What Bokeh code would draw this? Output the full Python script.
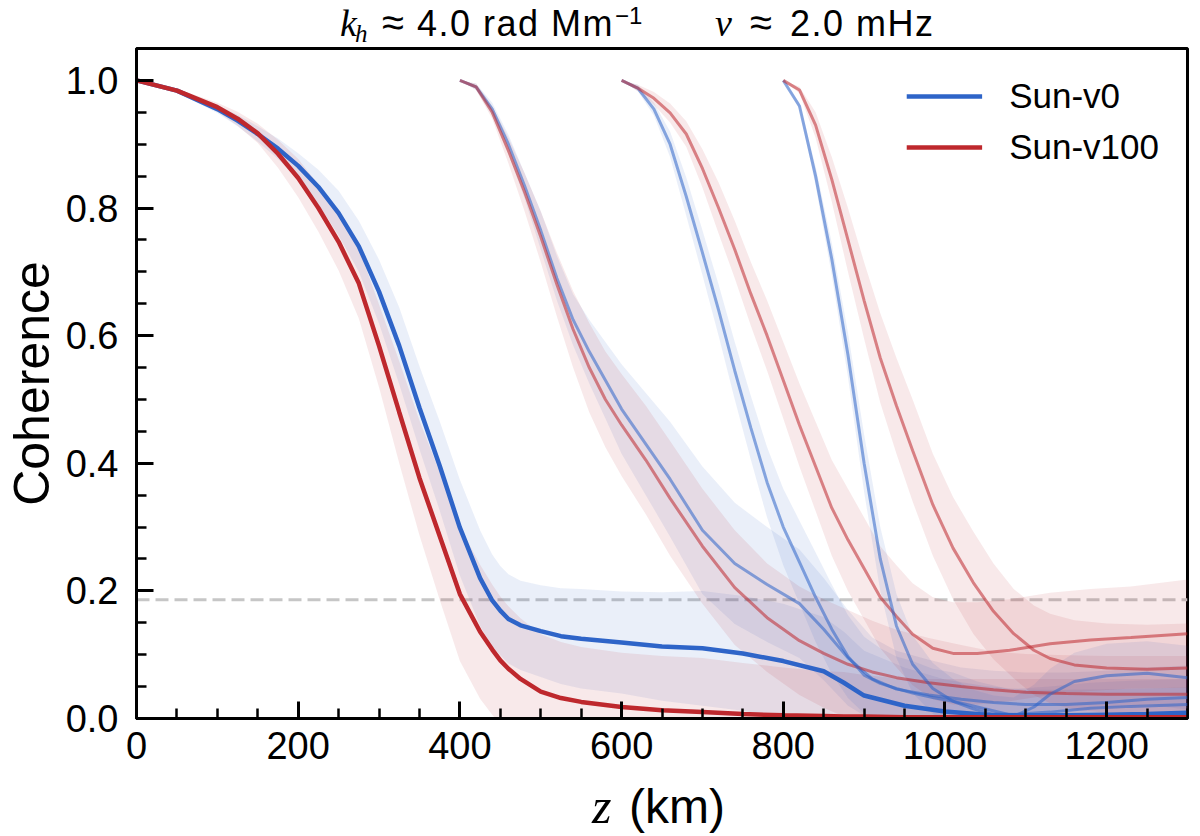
from bokeh.plotting import figure
from bokeh.layouts import column
from bokeh.models import (Range1d, SingleIntervalTicker, NumeralTickFormatter, Span,
                          Legend, LegendItem, Div)
from bokeh.embed import file_html
from bokeh.resources import INLINE

FONT = 'Liberation Sans'
SERIF = 'Liberation Serif'

BLUE = '#2e64c8'
RED = '#be282d'

# DATA

# coherence from the surface
z_ref = [0, 50, 100, 125, 150, 175, 200, 225, 250, 275, 300, 325, 350, 375, 400, 425, 440,
         450, 460, 475, 500, 525, 550, 600, 650, 700, 750, 800, 850, 875, 900, 950, 1000,
         1050, 1100, 1150, 1200, 1250, 1300]
v0_ref = [1.0, 0.984, 0.955, 0.937, 0.916, 0.893, 0.866, 0.833, 0.792, 0.74, 0.669, 0.584,
          0.487, 0.396, 0.299, 0.22, 0.185, 0.169, 0.156, 0.146, 0.137, 0.129, 0.125, 0.119,
          0.113, 0.11, 0.102, 0.09, 0.074, 0.056, 0.036, 0.02, 0.011, 0.006, 0.005, 0.005,
          0.006, 0.007, 0.009]
v0_ref_std = [0, 0.003, 0.006, 0.009, 0.012, 0.016, 0.02, 0.027, 0.035, 0.04, 0.05, 0.06,
              0.065, 0.07, 0.075, 0.075, 0.072, 0.07, 0.07, 0.07, 0.072, 0.075, 0.078, 0.08,
              0.085, 0.09, 0.09, 0.09, 0.085, 0.08, 0.07, 0.06, 0.05, 0.045, 0.04, 0.04,
              0.04, 0.04, 0.04]
v100_ref = [1.0, 0.984, 0.958, 0.94, 0.917, 0.885, 0.847, 0.8, 0.747, 0.682, 0.584, 0.48,
            0.377, 0.286, 0.195, 0.136, 0.108, 0.091, 0.078, 0.062, 0.042, 0.032, 0.026,
            0.018, 0.013, 0.01, 0.007, 0.005, 0.004, 0.003, 0.003, 0.002, 0.002, 0.002,
            0.002, 0.002, 0.002, 0.002, 0.002]
v100_ref_std = [0, 0.003, 0.007, 0.011, 0.015, 0.022, 0.03, 0.037, 0.045, 0.055, 0.065,
                0.08, 0.09, 0.1, 0.105, 0.105, 0.102, 0.1, 0.098, 0.095, 0.09, 0.088, 0.086,
                0.085, 0.085, 0.085, 0.08, 0.075, 0.07, 0.07, 0.065, 0.06, 0.06, 0.06, 0.06,
                0.06, 0.06, 0.06, 0.06]

# coherence from 400 km
z_400 = [400, 420, 440, 460, 480, 500, 520, 540, 560, 580, 600, 630, 660, 700, 740, 780,
         820, 850, 880, 910, 940, 980, 1020, 1060, 1100, 1150, 1200, 1250, 1300]
v0_400 = [1.0, 0.99, 0.955, 0.9, 0.835, 0.765, 0.69, 0.625, 0.575, 0.53, 0.485, 0.43, 0.375,
          0.295, 0.243, 0.21, 0.18, 0.14, 0.095, 0.062, 0.046, 0.037, 0.03, 0.025, 0.022,
          0.022, 0.025, 0.03, 0.033]
v0_400_std = [0, 0.005, 0.01, 0.015, 0.02, 0.03, 0.035, 0.04, 0.05, 0.06, 0.07, 0.08, 0.09,
              0.1, 0.095, 0.09, 0.085, 0.08, 0.075, 0.065, 0.06, 0.055, 0.05, 0.05, 0.05,
              0.05, 0.05, 0.05, 0.05]
v100_400 = [1.0, 0.99, 0.95, 0.89, 0.825, 0.755, 0.68, 0.61, 0.55, 0.5, 0.46, 0.405, 0.345,
            0.27, 0.205, 0.158, 0.122, 0.102, 0.085, 0.073, 0.064, 0.056, 0.05, 0.045, 0.041,
            0.039, 0.038, 0.038, 0.038]
v100_400_std = [0, 0.005, 0.01, 0.02, 0.03, 0.04, 0.05, 0.06, 0.07, 0.075, 0.08, 0.085, 0.09,
                0.09, 0.09, 0.085, 0.085, 0.085, 0.085, 0.08, 0.075, 0.07, 0.065, 0.06, 0.06,
                0.06, 0.06, 0.06, 0.06]

# coherence from 600 km
z_600 = [600, 620, 640, 660, 680, 700, 720, 740, 760, 780, 800, 820, 840, 860, 880, 900,
         920, 940, 960, 985, 1010, 1040, 1080, 1130, 1180, 1230, 1300]
v0_600 = [1.0, 0.988, 0.955, 0.9, 0.818, 0.73, 0.64, 0.545, 0.455, 0.37, 0.3, 0.245, 0.19,
          0.14, 0.097, 0.068, 0.055, 0.047, 0.04, 0.033, 0.027, 0.018, 0.006, 0.01, 0.016,
          0.019, 0.022]
v0_600_std = [0, 0.005, 0.01, 0.02, 0.03, 0.035, 0.04, 0.045, 0.05, 0.055, 0.06, 0.065, 0.07,
              0.07, 0.065, 0.06, 0.055, 0.05, 0.05, 0.045, 0.045, 0.04, 0.04, 0.04, 0.04,
              0.04, 0.04]
v100_600 = [1.0, 0.988, 0.972, 0.949, 0.916, 0.862, 0.8, 0.735, 0.665, 0.6, 0.53, 0.46,
            0.395, 0.33, 0.28, 0.235, 0.19, 0.16, 0.132, 0.11, 0.102, 0.102, 0.107, 0.117,
            0.123, 0.127, 0.133]
v100_600_std = [0, 0.005, 0.01, 0.015, 0.02, 0.03, 0.04, 0.045, 0.05, 0.055, 0.06, 0.065,
                0.07, 0.075, 0.08, 0.08, 0.08, 0.08, 0.08, 0.08, 0.08, 0.08, 0.08, 0.08, 0.08,
                0.08, 0.085]

# coherence from 800 km
z_800 = [800, 820, 840, 860, 880, 900, 920, 940, 960, 985, 1010, 1035, 1060, 1085, 1110,
         1130, 1160, 1200, 1250, 1300]
v0_800 = [1.0, 0.96, 0.85, 0.72, 0.57, 0.4, 0.25, 0.145, 0.085, 0.047, 0.027, 0.015, 0.006,
          0.003, 0.018, 0.038, 0.058, 0.067, 0.071, 0.064]
v0_800_std = [0, 0.005, 0.015, 0.025, 0.035, 0.045, 0.05, 0.05, 0.045, 0.04, 0.035, 0.03,
              0.03, 0.03, 0.035, 0.04, 0.045, 0.05, 0.05, 0.05]
v100_800 = [1.0, 0.985, 0.93, 0.845, 0.75, 0.655, 0.565, 0.49, 0.42, 0.335, 0.267, 0.213,
            0.168, 0.133, 0.107, 0.094, 0.084, 0.079, 0.077, 0.079]
v100_800_std = [0, 0.005, 0.02, 0.035, 0.05, 0.06, 0.07, 0.075, 0.08, 0.08, 0.08, 0.08,
                0.075, 0.07, 0.07, 0.07, 0.07, 0.07, 0.07, 0.07]

noise_level = 0.186

# FIGURE

p = figure(
    width=1192,
    height=730,
    x_range=Range1d(0, 1300),
    y_range=Range1d(0, 1.05),
    output_backend='svg',
    toolbar_location=None,
    tools='',
    min_border_left=132,
    min_border_right=5,
    min_border_top=2,
    min_border_bottom=58,
)
p.title.visible = False
p.grid.visible = False
p.outline_line_color = 'black'
p.outline_line_width = 3
p.outline_line_alpha = 1.0


def band(z, y, s, color):
    lo = [a - b for a, b in zip(y, s)]
    hi = [a + b for a, b in zip(y, s)]
    p.varea(x=z, y1=lo, y2=hi, fill_color=color, fill_alpha=0.1)


band(z_ref, v0_ref, v0_ref_std, BLUE)
band(z_ref, v100_ref, v100_ref_std, RED)
for z, y0, s0, y1, s1 in [(z_400, v0_400, v0_400_std, v100_400, v100_400_std),
                          (z_600, v0_600, v0_600_std, v100_600, v100_600_std),
                          (z_800, v0_800, v0_800_std, v100_800, v100_800_std)]:
    band(z, y0, s0, BLUE)
    band(z, y1, s1, RED)

p.add_layout(Span(location=noise_level, dimension='width', line_color='#c6c6c6',
                  line_width=3, line_dash='13 6', level='underlay'))

for z, y0, y1 in [(z_400, v0_400, v100_400), (z_600, v0_600, v100_600),
                  (z_800, v0_800, v100_800)]:
    p.line(z, y0, line_color=BLUE, line_width=3, line_alpha=0.55)
    p.line(z, y1, line_color=RED, line_width=3, line_alpha=0.55)

b_main = p.line(z_ref, v0_ref, line_color=BLUE, line_width=4.5)
r_main = p.line(z_ref, v100_ref, line_color=RED, line_width=4.5)

# AXES

p.xaxis.ticker = SingleIntervalTicker(interval=200, num_minor_ticks=4)
p.yaxis.ticker = SingleIntervalTicker(interval=0.2, num_minor_ticks=4)
p.yaxis.formatter = NumeralTickFormatter(format='0.0')

p.axis.major_tick_in = 17
p.axis.major_tick_out = 0
p.axis.minor_tick_in = 10
p.axis.minor_tick_out = 0
p.axis.axis_line_width = 3
p.axis.major_tick_line_width = 3
p.axis.minor_tick_line_width = 2.5
p.axis.major_label_text_font = FONT
p.axis.major_label_text_font_size = '38px'
p.axis.major_label_text_color = 'black'
p.xaxis.major_label_standoff = 13
p.yaxis.major_label_standoff = 18

p.yaxis.axis_label = 'Coherence'
p.yaxis.axis_label_text_font = FONT
p.yaxis.axis_label_text_font_size = '50px'
p.yaxis.axis_label_text_font_style = 'normal'
p.yaxis.axis_label_text_color = 'black'
p.yaxis.axis_label_standoff = 3

# LEGEND

legend = Legend(
    items=[LegendItem(label='Sun-v0', renderers=[b_main]),
           LegendItem(label='Sun-v100', renderers=[r_main])],
    location='top_right',
    border_line_alpha=0,
    background_fill_alpha=0,
    label_text_font=FONT,
    label_text_font_size='35px',
    label_text_color='black',
    glyph_width=76,
    glyph_height=40,
    label_height=40,
    label_standoff=27,
    spacing=11,
    padding=8,
    margin=20,
)
p.add_layout(legend)

# TITLE AND X LABEL (math italics mixed with upright text, so done as html)

ITALIC = f"font-family:'{SERIF}';font-style:italic;letter-spacing:0;"


def piece(text, width, style=''):
    return (f"<span style=\"display:inline-block;width:{width}px;position:relative;{style}\">"
            f"{text}</span>")


title_html = (
    f"<div style=\"font-family:'{FONT}';font-size:36px;line-height:40px;white-space:nowrap;"
    "padding-left:340px;padding-top:2px;color:black;letter-spacing:1.5px\">"
    + piece('k', 15, ITALIC + 'font-size:38px')
    + piece('h', 27, ITALIC + 'font-size:25px;top:6px')
    + piece('\u2248', 35, 'font-size:40px;letter-spacing:0')
    + piece('4.0 rad Mm', 198)
    + piece('\u22121', 100, 'font-size:24px;top:-12px;letter-spacing:0')
    + piece('\u03bd', 35, ITALIC + 'font-size:38px')
    + piece('\u2248', 40, 'font-size:40px;letter-spacing:0')
    + '2.0 mHz</div>'
)

xlabel_html = (
    f"<div style=\"font-family:'{FONT}';font-size:48px;line-height:50px;white-space:nowrap;"
    "padding-left:592px;padding-top:5px;color:black\">"
    + piece('z', 37, ITALIC + 'font-size:50px')
    + '(km)</div>'
)

title_div = Div(text=title_html, width=1192, height=46, margin=0,
                styles={'overflow': 'visible'})
xlabel_div = Div(text=xlabel_html, width=1192, height=58, margin=0,
                 styles={'overflow': 'visible'})

layout = column(title_div, p, xlabel_div, spacing=0)

open('out.html', 'w').write(file_html(layout, INLINE))
